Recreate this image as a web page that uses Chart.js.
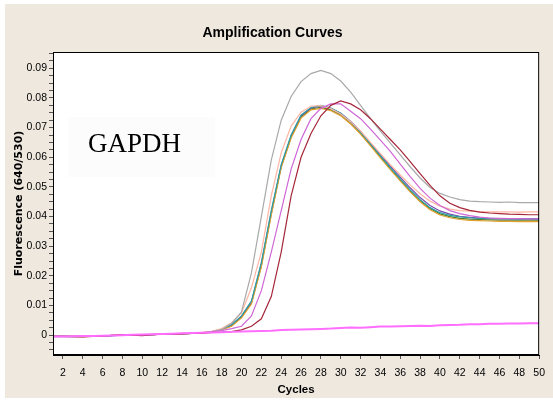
<!DOCTYPE html>
<html>
<head>
<meta charset="utf-8">
<script src="https://cdn.jsdelivr.net/npm/chart.js@4/dist/chart.umd.min.js"></script>
<style>
  html, body { margin: 0; padding: 0; background: #ffffff; }
  canvas { display: block; }
</style>
</head>
<body>
<canvas id="myChart" width="553" height="401"></canvas>
<script>
// cycles 1..50
let cycles = [];
for (let i = 1; i <= 50; i++) cycles.push(i);

// fluorescence (640/530), one value per cycle
let gray = [-0.0004,-0.0004,-0.0005,-0.0005,-0.0004,-0.0003,-0.0001,0.0001,0.0001,0.0001,
  0.0003,0.0003,0.0004,0.0005,0.0006,0.0008,0.0011,0.0018,0.0040,0.0078,
  0.0210,0.0400,0.0590,0.0725,0.0805,0.0855,0.0882,0.0893,0.0882,0.0857,
  0.0820,0.0775,0.0730,0.0688,0.0648,0.0608,0.0568,0.0530,0.0498,0.0478,
  0.0466,0.0457,0.0452,0.0450,0.0449,0.0448,0.0449,0.0447,0.0447,0.0447];

let teal = [-0.0005,-0.0004,-0.0005,-0.0004,-0.0004,-0.0003,-0.0002,0.0000,0.0001,0.0001,
  0.0002,0.0003,0.0004,0.0005,0.0006,0.0008,0.0012,0.0020,0.0035,0.0065,
  0.0115,0.0245,0.0420,0.0575,0.0675,0.0742,0.0768,0.0775,0.0766,0.0748,
  0.0720,0.0685,0.0645,0.0605,0.0565,0.0527,0.0490,0.0457,0.0430,0.0413,
  0.0404,0.0399,0.0396,0.0394,0.0393,0.0393,0.0392,0.0392,0.0392,0.0391];

let orange = [-0.0004,-0.0004,-0.0004,-0.0005,-0.0003,-0.0003,-0.0001,0.0001,0.0001,0.0002,
  0.0002,0.0003,0.0004,0.0005,0.0007,0.0008,0.0011,0.0018,0.0030,0.0058,
  0.0105,0.0230,0.0405,0.0565,0.0665,0.0732,0.0760,0.0765,0.0757,0.0740,
  0.0712,0.0678,0.0638,0.0598,0.0558,0.0520,0.0483,0.0450,0.0423,0.0405,
  0.0396,0.0390,0.0387,0.0386,0.0385,0.0384,0.0384,0.0383,0.0384,0.0383];

let salmon = [-0.0004,-0.0005,-0.0004,-0.0004,-0.0004,-0.0002,-0.0001,0.0001,0.0001,0.0002,
  0.0003,0.0003,0.0004,0.0006,0.0007,0.0009,0.0013,0.0022,0.0042,0.0075,
  0.0160,0.0280,0.0470,0.0615,0.0705,0.0752,0.0772,0.0774,0.0764,0.0746,
  0.0720,0.0688,0.0650,0.0612,0.0575,0.0540,0.0507,0.0477,0.0452,0.0435,
  0.0425,0.0420,0.0418,0.0417,0.0416,0.0416,0.0416,0.0415,0.0416,0.0416];

let green = [-0.0004,-0.0004,-0.0004,-0.0004,-0.0003,-0.0003,-0.0001,0.0000,0.0001,0.0002,
  0.0002,0.0003,0.0004,0.0005,0.0006,0.0008,0.0011,0.0019,0.0032,0.0060,
  0.0108,0.0235,0.0410,0.0568,0.0668,0.0736,0.0763,0.0768,0.0760,0.0743,
  0.0715,0.0681,0.0641,0.0601,0.0561,0.0523,0.0486,0.0453,0.0427,0.0409,
  0.0400,0.0394,0.0391,0.0390,0.0389,0.0388,0.0388,0.0388,0.0388,0.0388];

let purple = [-0.0004,-0.0004,-0.0004,-0.0004,-0.0004,-0.0003,-0.0002,0.0000,0.0001,0.0001,
  0.0002,0.0003,0.0004,0.0005,0.0006,0.0008,0.0012,0.0019,0.0034,0.0063,
  0.0112,0.0240,0.0415,0.0570,0.0672,0.0740,0.0766,0.0773,0.0765,0.0748,
  0.0721,0.0687,0.0648,0.0609,0.0570,0.0533,0.0497,0.0464,0.0437,0.0419,
  0.0408,0.0401,0.0397,0.0395,0.0394,0.0393,0.0393,0.0392,0.0392,0.0392];

let magenta = [-0.0004,-0.0004,-0.0004,-0.0004,-0.0003,-0.0003,-0.0001,0.0000,0.0001,0.0001,
  0.0002,0.0003,0.0004,0.0005,0.0006,0.0008,0.0011,0.0015,0.0022,0.0030,
  0.0065,0.0150,0.0280,0.0420,0.0560,0.0660,0.0730,0.0765,0.0780,0.0780,
  0.0755,0.0730,0.0695,0.0658,0.0620,0.0577,0.0535,0.0495,0.0462,0.0437,
  0.0420,0.0410,0.0403,0.0398,0.0395,0.0394,0.0393,0.0393,0.0392,0.0392];

let darkred = [-0.0004,-0.0004,-0.0005,-0.0006,-0.0004,-0.0003,-0.0001,0.0001,0.0000,-0.0002,
  0.0002,0.0003,0.0003,0.0004,0.0006,0.0006,0.0009,0.0010,0.0012,0.0018,
  0.0030,0.0055,0.0130,0.0280,0.0470,0.0600,0.0680,0.0740,0.0775,0.0790,
  0.0780,0.0760,0.0730,0.0695,0.0660,0.0625,0.0585,0.0545,0.0505,0.0470,
  0.0445,0.0430,0.0421,0.0415,0.0412,0.0410,0.0408,0.0407,0.0406,0.0406];

// negative control, almost flat
let negative = [-0.0005,-0.0005,-0.0004,-0.0003,-0.0003,-0.0002,-0.0001,0.0000,0.0001,0.0002,
  0.0003,0.0004,0.0005,0.0006,0.0007,0.0008,0.0009,0.0010,0.0011,0.0012,
  0.0013,0.0014,0.0015,0.0017,0.0018,0.0019,0.0020,0.0021,0.0022,0.0024,
  0.0026,0.0025,0.0027,0.0029,0.0029,0.0030,0.0031,0.0032,0.0031,0.0033,
  0.0034,0.0035,0.0037,0.0037,0.0038,0.0038,0.0039,0.0039,0.0040,0.0040];

let sans = "'Liberation Sans', Arial, sans-serif";

// pair cycles with values for a linear x axis
function pts(values) {
  let out = [];
  for (let i = 0; i < values.length; i++) out.push({x: cycles[i], y: values[i]});
  return out;
}

function line(label, values, color, width) {
  return {
    label: label,
    data: pts(values),
    borderColor: color,
    borderWidth: width || 1.2,
    pointRadius: 0,
    fill: false,
    tension: 0
  };
}

// beige page, white plot box, frame, and the GAPDH label
const backdrop = {
  id: 'backdrop',
  beforeDraw(chart) {
    const {ctx, chartArea: a} = chart;
    ctx.save();
    ctx.fillStyle = '#efe8df';
    ctx.fillRect(5, 4, 553 - 5, 401 - 7);
    ctx.fillStyle = '#ffffff';
    ctx.fillRect(a.left, a.top, a.right - a.left, a.bottom - a.top);
    ctx.fillStyle = '#fcfcfc';
    ctx.fillRect(68, 117, 147, 60);
    ctx.fillStyle = '#000000';
    ctx.font = "27px 'Liberation Serif', 'Times New Roman', serif";
    ctx.textBaseline = 'alphabetic';
    ctx.fillText('GAPDH', 88, 152);
    ctx.restore();
  },
  afterDraw(chart) {
    const {ctx, chartArea: a} = chart;
    ctx.save();
    ctx.strokeStyle = '#000000';
    ctx.lineWidth = 1;
    ctx.strokeRect(a.left + 0.5, a.top + 0.5, a.right - a.left - 1, a.bottom - a.top - 1);
    ctx.restore();
  }
};

// first dataset is painted on top
let options = {
  type: 'line',
  data: {
    datasets: [
      line('negative', negative, '#ff6eff', 2),
      line('darkred', darkred, '#a5283a'),
      line('magenta', magenta, '#cf66d6'),
      line('gray', gray, '#a9a9a9'),
      line('salmon', salmon, '#ffb5a3'),
      line('teal', teal, '#2a9ea2'),
      line('orange', orange, '#e3a02e'),
      line('purple', purple, '#7a4fb0'),
      line('green', green, '#4f7d2e')
    ]
  },
  options: {
    responsive: false,
    animation: false,
    devicePixelRatio: 1,
    layout: { padding: { left: 5, top: 4, right: 13, bottom: 0 } },
    plugins: {
      legend: { display: false },
      tooltip: { enabled: false },
      title: {
        display: true,
        text: 'Amplification Curves',
        color: '#000000',
        font: { family: sans, size: 14, weight: 'bold', lineHeight: 1.2 },
        padding: { top: 20.5, bottom: 10.7 }
      }
    },
    scales: {
      x: {
        type: 'linear',
        min: 1,
        max: 50,
        afterFit(scale) { scale.height = 46; },
        grid: {
          drawOnChartArea: false,
          drawTicks: true,
          tickLength: 4,
          tickColor: (c) => (c.tick && c.tick.value % 2 === 0) ? '#555555' : 'rgba(0,0,0,0)'
        },
        border: { color: '#000000' },
        ticks: {
          stepSize: 1,
          autoSkip: false,
          maxTicksLimit: 100,
          maxRotation: 0,
          includeBounds: false,
          padding: 8,
          color: '#000000',
          font: { family: sans, size: 10.5 },
          callback: (v) => (v % 2 === 0) ? String(v) : ''
        },
        title: {
          display: true,
          text: 'Cycles',
          color: '#000000',
          font: { family: sans, size: 11.5, weight: 'bold', lineHeight: 1.2 },
          padding: { top: 0, bottom: 4 }
        }
      },
      y: {
        min: -0.0067,
        max: 0.0955,
        afterFit(scale) { scale.width = 48; },
        grid: {
          drawOnChartArea: false,
          drawTicks: true,
          tickLength: 4,
          tickColor: '#555555'
        },
        border: { color: '#000000' },
        ticks: {
          stepSize: 0.0025,
          maxTicksLimit: 100,
          autoSkip: false,
          includeBounds: false,
          padding: 2,
          color: '#000000',
          font: { family: sans, size: 10.5 },
          callback: function(v) {
            let n = Math.round(v * 10000);
            if (n % 100 !== 0) return '';
            if (n === 0) return '0';
            return (n / 10000).toFixed(2);
          }
        },
        title: {
          display: true,
          text: 'Fluorescence (640/530)',
          color: '#000000',
          font: { family: "'DejaVu Sans', sans-serif", size: 11, weight: 'bold', lineHeight: 1.2 },
          padding: { top: 8, bottom: 0 }
        }
      }
    }
  },
  plugins: [backdrop]
};

const myChart = new Chart(document.getElementById('myChart'), options);
</script>
</body>
</html>
